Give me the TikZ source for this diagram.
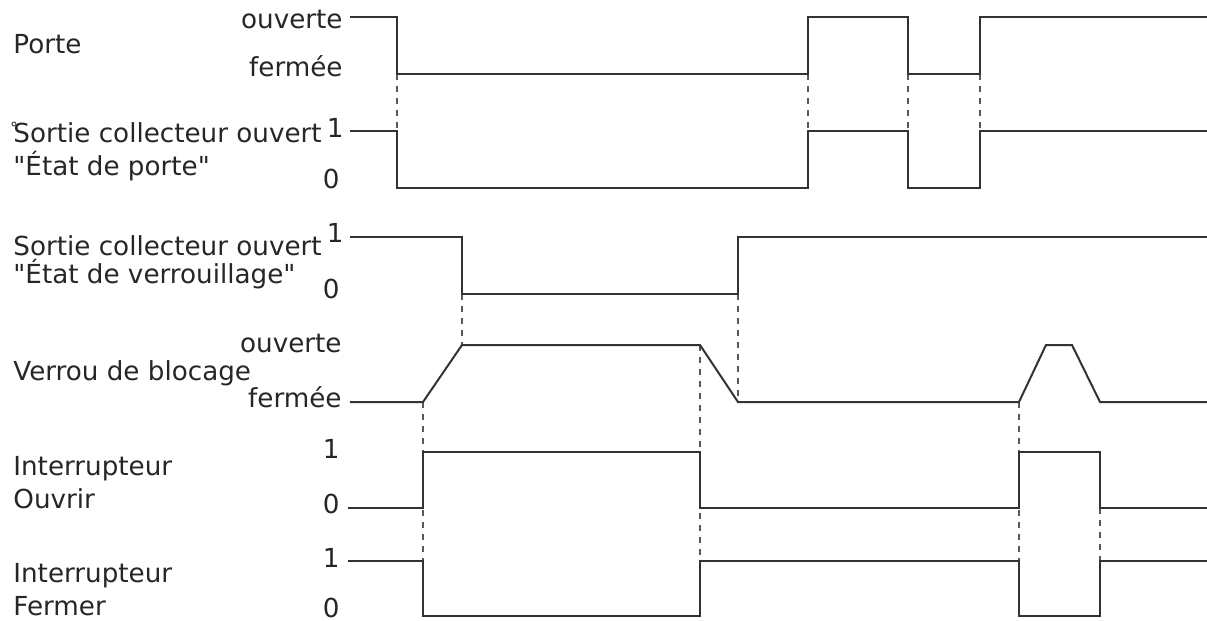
\documentclass[tikz,border=0pt]{standalone}
\usepackage{fontspec}
\setmainfont{DejaVu Sans}
\begin{document}
\begin{tikzpicture}[x=0.5pt,y=-0.5pt,
    every node/.style={font=\fontsize{13.1}{15}\selectfont,text=black!85},
    lbl/.style={anchor=base west,inner sep=0pt},
    lvl/.style={anchor=base east,inner sep=0pt},
    sig/.style={line width=1pt,draw=black!80},
    guide/.style={line width=0.7pt,draw=black!65,dash pattern=on 3pt off 3pt}]
            \useasboundingbox (0,0) rectangle (1207,621);
            \node[lbl] (porte) at (13,54) {Porte};
            \node[lvl] (porteO) at (343,28) {ouverte};
            \node[lvl] (porteF) at (343,76) {fermée};
            \node[lbl] (etatP) at (13,142) {Sortie collecteur ouvert};
            \node[lbl] (etatPb) at (13,175) {\textquotedbl État de porte\textquotedbl};
            \node[lvl] (etatP1) at (344,137) {1};
            \node[lvl] (etatP0) at (340,188) {0};
            \node[lbl] (etatV) at (13,255) {Sortie collecteur ouvert};
            \node[lbl] (etatVb) at (13,283) {\textquotedbl État de verrouillage\textquotedbl};
            \node[lvl] (etatV1) at (344,242) {1};
            \node[lvl] (etatV0) at (340,298) {0};
            \node[lvl] (verrouO) at (342,352) {ouverte};
            \node[lbl] (verrou) at (13,380) {Verrou de blocage};
            \node[lvl] (verrouF) at (342,407) {fermée};
            \node[lbl] (ouvrir) at (13,475) {Interrupteur};
            \node[lbl] (ouvrirb) at (13,508) {Ouvrir};
            \node[lvl] (ouvrir1) at (340,458) {1};
            \node[lvl] (ouvrir0) at (340,513) {0};
            \node[lbl] (fermer) at (13,582) {Interrupteur};
            \node[lbl] (fermerb) at (13,615) {Fermer};
            \node[lvl] (fermer1) at (340,567) {1};
            \node[lvl] (fermer0) at (340,617) {0};
            \draw[line width=0.5pt,draw=black!70] (14,124) circle (2);
            \foreach \x in {397,808,908,980}
                \draw[guide] (\x,74)--(\x,131);
            \draw[guide] (462,294)--(462,345);
            \draw[guide] (738,294)--(738,402);
            \foreach \x in {423,1019}
                \draw[guide] (\x,402)--(\x,561);
            \draw[guide] (700,345)--(700,561);
            \draw[guide] (1100,508)--(1100,561);
            \draw[sig] (350,17) -| (397,74) -| (808,17) -| (908,74) -| (980,17) -- (1207,17);
            \draw[sig] (350,131) -| (397,188) -| (808,131) -| (908,188) -| (980,131) -- (1207,131);
            \draw[sig] (350,237) -| (462,294) -| (738,237) -- (1207,237);
            \draw[sig] (350,402) -- (423,402) -- (462,345) -- (700,345) -- (738,402)
                -- (1019,402) -- (1046,345) -- (1072,345) -- (1100,402) -- (1207,402);
            \draw[sig] (348,508) -| (423,452) -| (700,508) -| (1019,452) -| (1100,508) -- (1207,508);
            \draw[sig] (348,561) -| (423,616) -| (700,561) -| (1019,616) -| (1100,561) -- (1207,561);
\end{tikzpicture}
\end{document}
